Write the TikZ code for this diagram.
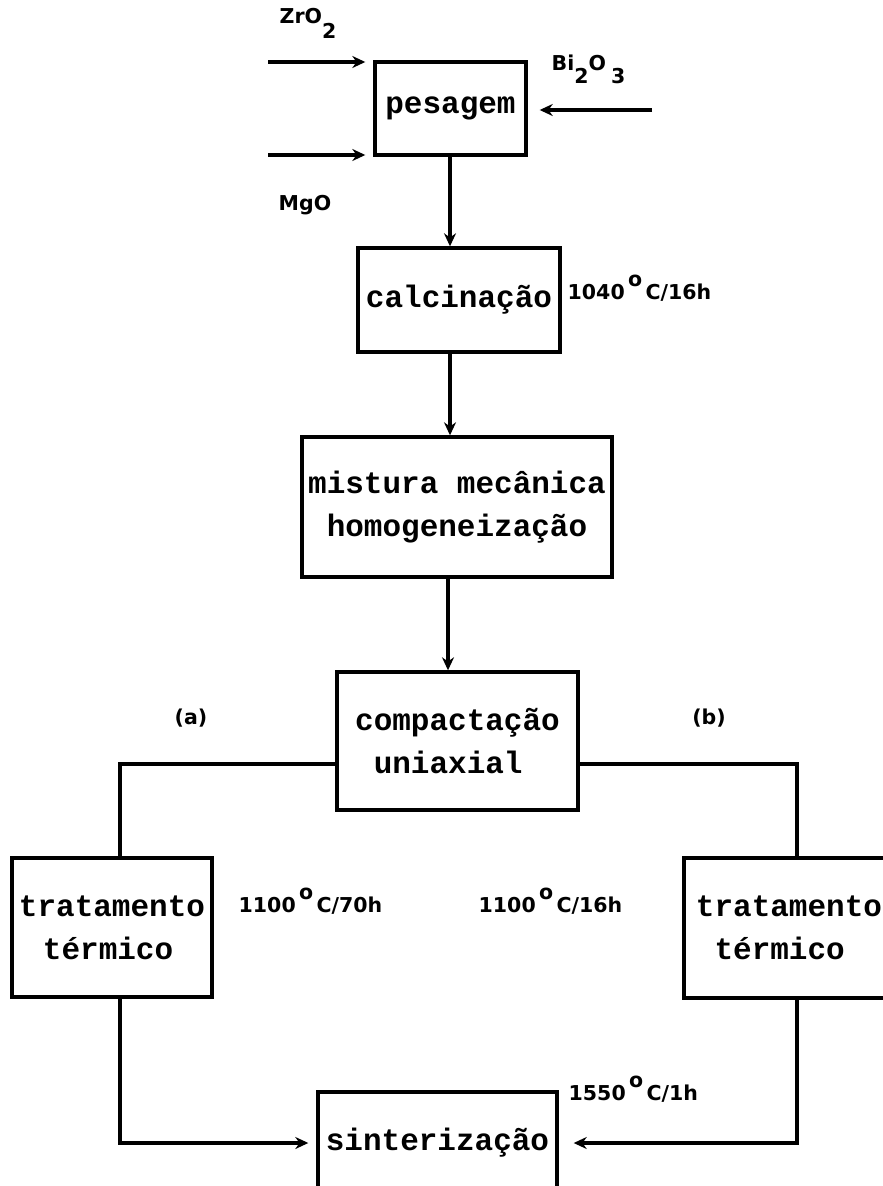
\documentclass[tikz,border=0pt]{standalone}
\usepackage{fontspec}
\newfontfamily\boxfont{Liberation Mono}
\newfontfamily\lblfont{DejaVu Sans}
\usetikzlibrary{arrows.meta}
\newcommand\dgr{\,\raisebox{0.6em}{o}\,}
\begin{document}
\begin{tikzpicture}[x=1pt,y=-1pt,line width=3.4pt,
  box/.style={draw,line width=3.4pt,inner sep=0pt,align=left,
    font=\boxfont\bfseries\fontsize{31}{43}\selectfont},
  lbl/.style={font=\lblfont\bfseries\fontsize{20.5}{24}\selectfont,inner sep=0pt},
  arr/.style={-{Stealth[length=13pt,width=12pt]}}]
\useasboundingbox (0,0) rectangle (883,1186);
\clip (0,0) rectangle (883,1186);
% boxes
\node[box,minimum width=151pt,minimum height=93pt] (pes) at (450.5,108.5) {pesagem};
\node[box,minimum width=202pt,minimum height=104pt] (cal) at (459,300) {calcinação};
\node[box,minimum width=310pt,minimum height=140pt] (mis) at (457,507) {mistura mecânica\\\hphantom{x}homogeneização};
\node[box,minimum width=241pt,minimum height=138pt] (com) at (457.5,741) {compactação\\\hphantom{x}uniaxial};
\node[box,minimum width=200pt,minimum height=139pt] (tl) at (112,927.5) {tratamento\\\hspace{24pt}térmico};
\node[box,minimum width=210pt,minimum height=140pt] (tr) at (789,928) {tratamento\\\hphantom{x}térmico};
\node[box,minimum width=239pt,minimum height=102pt] (sin) at (437.5,1143) {sinterização};
% helper coordinates
\coordinate (ax) at (450,0);
\coordinate (bx) at (448,0);
\coordinate (xl) at (120,0);
\coordinate (xr) at (797,0);
\coordinate (yb) at (0,764);
\coordinate (zin) at (268,62);
\coordinate (min) at (268,155);
\coordinate (bin) at (652,110);
% inputs
\draw[arr,shorten >=8pt] (zin) -- (zin -| pes.west);
\draw[arr,shorten >=8pt] (min) -- (min -| pes.west);
\draw[arr,shorten >=12pt] (bin) -- (bin -| pes.east);
% main flow
\draw[arr] (ax |- pes.south) -- (ax |- cal.north);
\draw[arr] (ax |- cal.south) -- (ax |- mis.north);
\draw[arr] (bx |- mis.south) -- (bx |- com.north);
% branches
\draw (com.west |- yb) -| (xl |- tl.north);
\draw (com.east |- yb) -| (xr |- tr.north);
\draw[arr,shorten >=8pt] (xl |- tl.south) |- (sin.west);
\draw[arr,shorten >=15pt] (xr |- tr.south) |- (sin.east);
% labels
\node[lbl,anchor=base west] (zro) at (278,23) {ZrO\raisebox{-15pt}{2}};
\node[lbl,anchor=base west] (mgo) at (277,210) {MgO};
\node[lbl,anchor=base west] (bio) at (550,70) {Bi\raisebox{-13pt}{2}O\hspace{5pt}\raisebox{-13pt}{3}};
\node[lbl,anchor=base west] (t1) at (566,299) {1040\dgr C/16h};
\node[lbl] (la) at (191,718) {(a)};
\node[lbl] (lb) at (709,718) {(b)};
\node[lbl,anchor=base west] (t2) at (237,912) {1100\dgr C/70h};
\node[lbl,anchor=base west] (t3) at (477,912) {1100\dgr C/16h};
\node[lbl,anchor=base west] (t4) at (567,1100) {1550\dgr C/1h};
\end{tikzpicture}
\end{document}
